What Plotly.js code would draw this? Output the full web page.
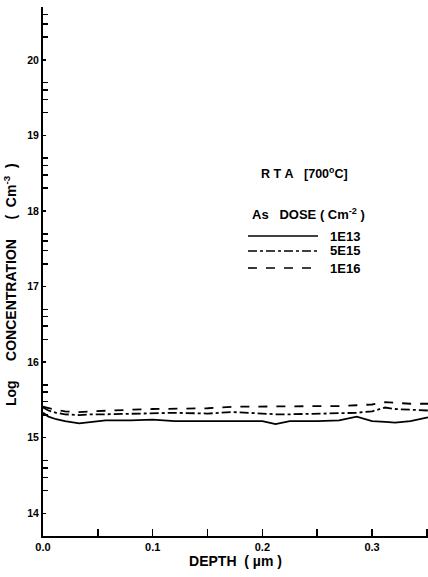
<!DOCTYPE html>
<html>
<head>
<meta charset="utf-8">
<script src="https://cdn.plot.ly/plotly-3.0.1.min.js"></script>
<style>html,body{margin:0;padding:0;background:#fff;}#chart{width:428px;height:577px;}</style>
</head>
<body>
<div id="chart"></div>
<script>
// ---- data ----
const depth = [0, 0.005, 0.012, 0.02, 0.033, 0.045, 0.057, 0.08, 0.1, 0.12, 0.15, 0.173, 0.2, 0.212, 0.225, 0.25, 0.27, 0.286, 0.3, 0.312, 0.321, 0.335, 0.351];
const conc1E13 = [15.33, 15.28, 15.245, 15.22, 15.19, 15.21, 15.23, 15.23, 15.24, 15.22, 15.22, 15.22, 15.22, 15.18, 15.22, 15.22, 15.23, 15.28, 15.22, 15.21, 15.2, 15.22, 15.27];
const conc5E15 = [15.40, 15.36, 15.33, 15.31, 15.30, 15.31, 15.31, 15.32, 15.32, 15.33, 15.32, 15.34, 15.32, 15.31, 15.31, 15.32, 15.33, 15.33, 15.35, 15.40, 15.38, 15.37, 15.36];
const conc1E16 = [15.41, 15.39, 15.37, 15.35, 15.34, 15.35, 15.36, 15.37, 15.38, 15.38, 15.39, 15.41, 15.41, 15.41, 15.41, 15.41, 15.42, 15.43, 15.44, 15.47, 15.46, 15.45, 15.45];
const seriesNames = ["1E13", "5E15", "1E16"];
const xTickVals = [0, 0.1, 0.2, 0.3];
const xTickText = ["0.0", "0.1", "0.2", "0.3"];
const yTickVals = [14, 15, 16, 17, 18, 19, 20];
const yTickText = ["14", "15", "16", "17", "18", "19", "20"];
const minorDecades = [13, 14, 15, 16, 17, 18, 19, 20];
const minorMultipliers = [2, 3, 4, 5];

// ---- geometry helpers ----
const W = 428, H = 577;
const M = {l: 43, r: 0, t: 7, b: 41};
const pw = W - M.l - M.r, ph = H - M.t - M.b;
const px = x => (x - M.l) / pw;
const py = y => (H - M.b - y) / ph;

const minorVals = [];
minorDecades.forEach(d => minorMultipliers.forEach(m => minorVals.push(d + Math.log10(m))));

const FONT = "Liberation Sans, Arial, sans-serif";
const dashes = ["solid", "dashdot", "dash"];
const ys = [conc1E13, conc5E15, conc1E16];
const bold = s => "<b>" + s + "</b>";

const traces = ys.map((y, i) => ({
  x: depth, y: y, type: "scatter", mode: "lines", name: seriesNames[i],
  line: {color: "#000", width: 1.8, dash: dashes[i]}, showlegend: false, hoverinfo: "skip"
}));

const legendRows = [236, 251, 268];
const shapes = legendRows.map((yy, i) => ({
  type: "line", xref: "paper", yref: "paper",
  x0: px(248), x1: px(318), y0: py(yy), y1: py(yy),
  line: {color: "#000", width: 1.6, dash: dashes[i]}
}));

const ann = (text, x, y, size, extra) => Object.assign({
  text: text, xref: "paper", yref: "paper", x: px(x), y: py(y),
  xanchor: "center", yanchor: "middle", showarrow: false,
  font: {family: FONT, size: size, color: "#000"}
}, extra || {});

const annotations = [
  ann(bold("Log&nbsp;&nbsp;&nbsp;&nbsp;&nbsp;CONCENTRATION&nbsp;&nbsp;&nbsp;&nbsp;&nbsp;(&nbsp;&nbsp;Cm<sup>-3</sup>&nbsp;&nbsp;)"), 10, 285, 14, {textangle: -90}),
  ann(bold("R&nbsp;T&nbsp;A&nbsp;&nbsp;&nbsp;[700<sup>o</sup>C]"), 304, 173, 12.5),
  ann(bold("As&nbsp;&nbsp;&nbsp;DOSE&nbsp;(&nbsp;Cm<sup>-2</sup>&nbsp;)"), 308, 214, 13)
];
seriesNames.forEach((n, i) => annotations.push(
  ann(bold(n), 328, legendRows[i], 13, {xanchor: "left"})
));

const layout = {
  width: W, height: H, margin: M,
  paper_bgcolor: "#fff", plot_bgcolor: "#fff",
  showlegend: false,
  font: {family: FONT, color: "#000"},
  xaxis: {
    range: [0, 0.351], tickvals: xTickVals, ticktext: xTickText.map(bold),
    ticks: "inside", ticklen: 7, tickwidth: 1.5, tickcolor: "#000",
    minor: {dtick: 0.05, tick0: 0, ticks: "inside", ticklen: 7, tickwidth: 1.5, tickcolor: "#000"},
    showline: true, linewidth: 2, linecolor: "#000", showgrid: false, zeroline: false,
    tickfont: {family: FONT, size: 11, color: "#000"},
    title: {text: bold("DEPTH&nbsp;&nbsp;(&nbsp;µm&nbsp;)"), font: {family: FONT, size: 14, color: "#000"}, standoff: 3}
  },
  yaxis: {
    range: [13.70, 20.699], tickvals: yTickVals, ticktext: yTickText.map(bold),
    ticks: "inside", ticklen: 3, tickwidth: 1.5, tickcolor: "#000",
    minor: {tickvals: minorVals, ticks: "inside", ticklen: 5, tickwidth: 1.5, tickcolor: "#000"},
    showline: true, linewidth: 2, linecolor: "#000", showgrid: false, zeroline: false,
    tickfont: {family: FONT, size: 10.5, color: "#000"}
  },
  shapes: shapes,
  annotations: annotations
};

Plotly.newPlot("chart", traces, layout, {staticPlot: true, displayModeBar: false});
</script>
</body>
</html>
